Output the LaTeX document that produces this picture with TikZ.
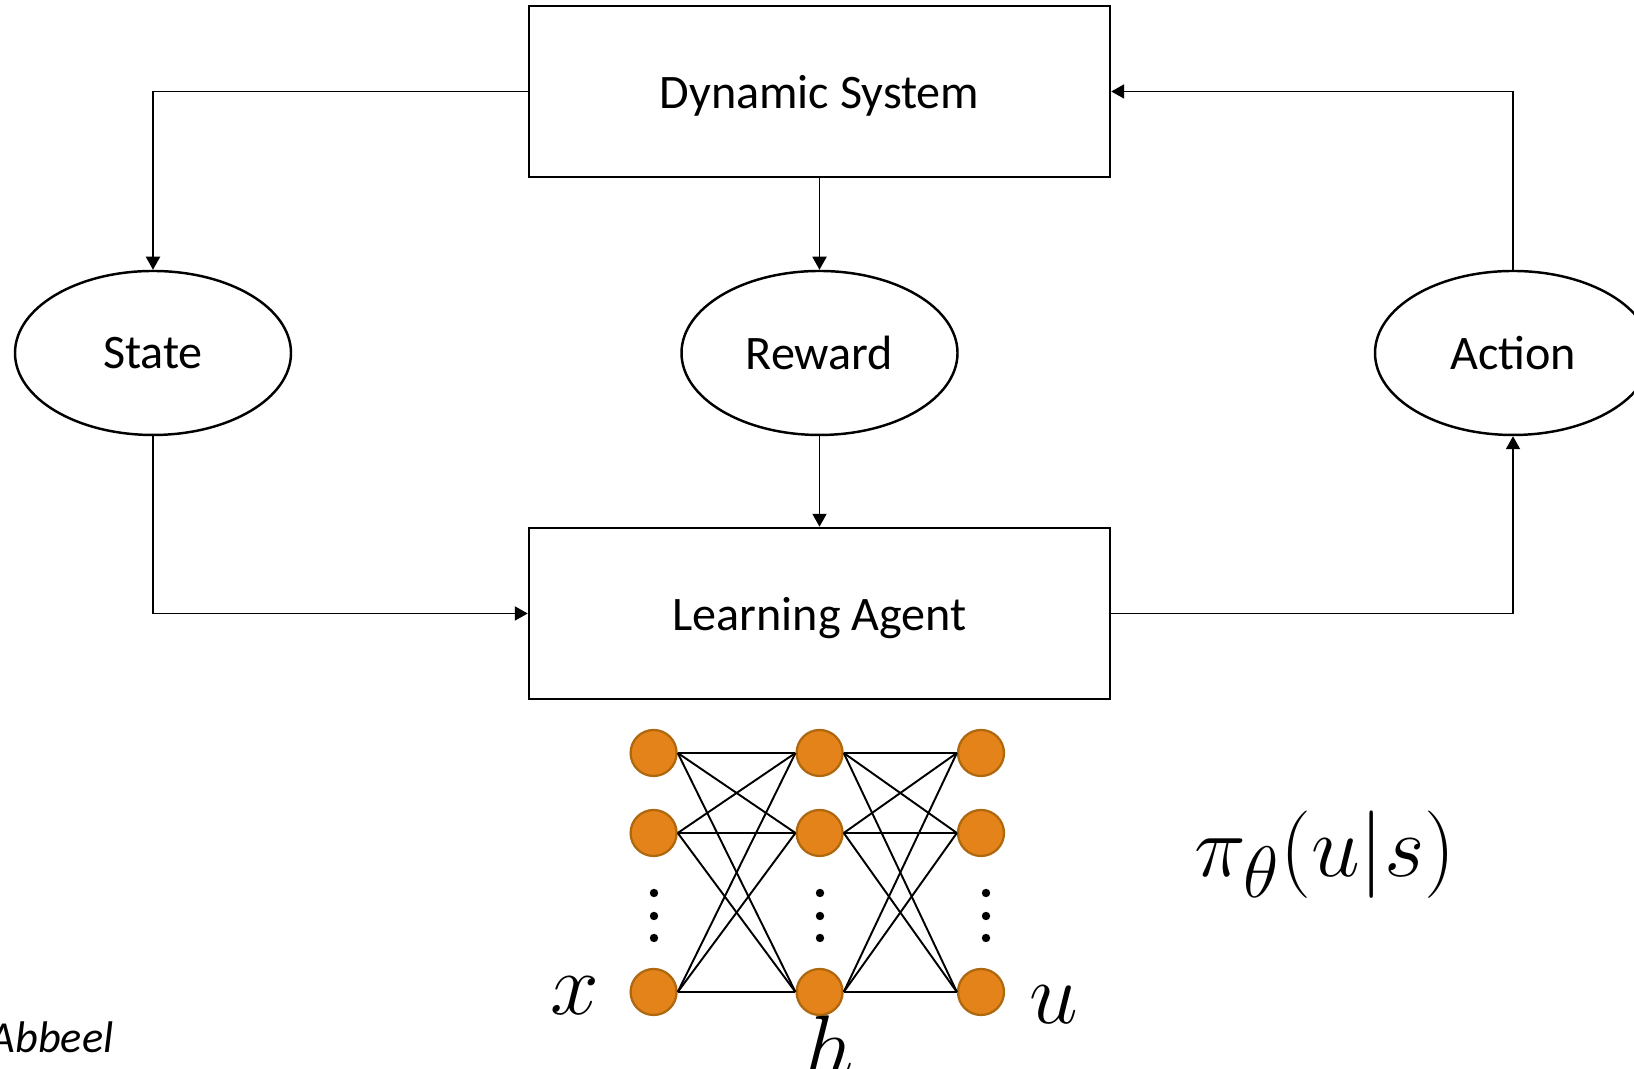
\documentclass[tikz,border=0pt]{standalone}
\usepackage[no-math]{fontspec}
\setmainfont{Carlito}
\usepackage{tikz}
\usetikzlibrary{arrows.meta,shapes.geometric}
\definecolor{nodeorange}{HTML}{E3831A}
\definecolor{nodeedge}{HTML}{B0680F}

\tikzset{
  block/.style={draw,line width=0.7pt,minimum width=5.81cm,minimum height=1.71cm,inner sep=0pt,text depth=0pt,font=\fontsize{13.7}{16}\selectfont},
  signal/.style={draw,ellipse,line width=0.7pt,minimum width=2.76cm,minimum height=1.64cm,inner sep=0pt,font=\fontsize{13.7}{16}\selectfont},
  neuron/.style={circle,fill=nodeorange,draw=nodeedge,line width=0.65pt,minimum size=0.46cm,inner sep=0pt},
  link/.style={line width=0.55pt},
  mathlbl/.style={font=\fontsize{24}{28}\selectfont,inner sep=0pt,anchor=base}
}

\begin{document}
\begin{tikzpicture}[>={Triangle[length=0.13cm,width=0.14cm]}]
        \useasboundingbox (0,0) rectangle (16.34,10.69);
        % loop blocks
        \node[block] (sys) at (8.195,9.775) {Dynamic System};
        \node[block] (agent) at (8.195,4.555) {Learning Agent};
        \node[signal] (state) at (1.53,7.16) {State};
        \node[signal] (reward) at (8.195,7.16) {Reward};
        \node[signal] (action) at (15.13,7.16) {Action};
        \draw[link,->] (sys.west) -| (state.north);
        \draw[link,->] (sys.south) -- (reward.north);
        \draw[link,->] (action.north) |- (sys.east);
        \draw[link,->] (state.south) |- (agent.west);
        \draw[link,->] (reward.south) -- (agent.north);
        \draw[link,->] (agent.east) -| (action.south);
        % policy network
        \foreach \c/\x in {1/6.536,2/8.196,3/9.81}
          \foreach \r/\y in {1/3.16,2/2.36,3/0.77}
            \node[neuron] (n\c-\r) at (\x,\y) {};
        \foreach \r in {1,2,3}
          \foreach \s in {1,2,3}
          {
            \draw[link] (n1-\r.east) -- (n2-\s.west);
            \draw[link] (n2-\r.east) -- (n3-\s.west);
          }
        \foreach \x in {6.54,8.20,9.86}
          \foreach \y in {1.76,1.53,1.31}
            \fill (\x,\y) circle (0.042);
        \node[mathlbl] (xlbl) at (5.75,0.54) {$x$};
        \node[mathlbl] (hlbl) at (8.29,-0.08) {$h$};
        \node[mathlbl] (ulbl) at (10.54,0.45) {$u$};
        \node[mathlbl,font=\fontsize{28}{32}\selectfont] (policy) at (13.25,1.92) {$\pi_\theta(u|s)$};
        \node[anchor=base east,inner sep=0pt,font=\fontsize{12.6}{15}\selectfont\itshape] (credit) at (1.14,0.16) {Abbeel};
      \end{tikzpicture}
\end{document}
